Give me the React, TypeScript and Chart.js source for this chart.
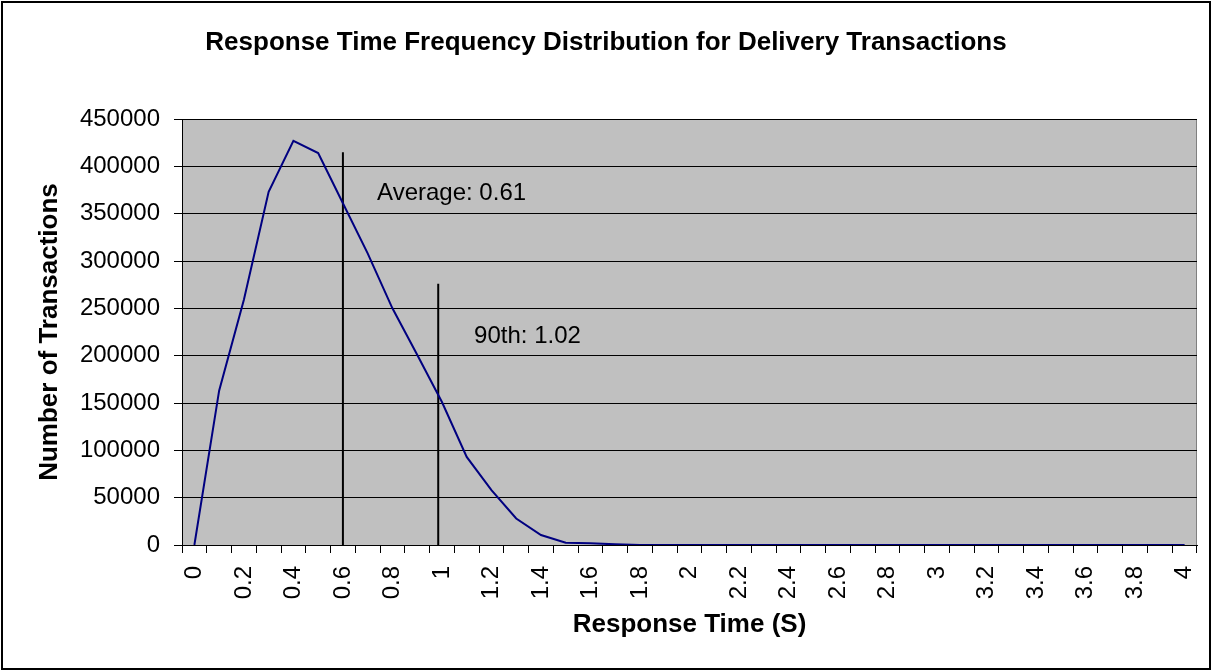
import { useEffect, useRef } from 'react';
import { Chart, registerables } from 'chart.js';

Chart.register(...registerables);

const chartTitle = 'Response Time Frequency Distribution for Delivery Transactions';
const xAxisTitle = 'Response Time (S)';
const yAxisTitle = 'Number of Transactions';

// Response time buckets (seconds)
const categories = [
  '0', '0.1', '0.2', '0.3', '0.4', '0.5', '0.6', '0.7', '0.8', '0.9',
  '1', '1.1', '1.2', '1.3', '1.4', '1.5', '1.6', '1.7', '1.8', '1.9',
  '2', '2.1', '2.2', '2.3', '2.4', '2.5', '2.6', '2.7', '2.8', '2.9',
  '3', '3.1', '3.2', '3.3', '3.4', '3.5', '3.6', '3.7', '3.8', '3.9',
  '4',
];

// Number of transactions per bucket
const transactions = [
  0, 163000, 259000, 373000, 427000, 414000, 361000, 308000, 250000, 201000,
  151000, 93000, 58000, 28000, 10500, 2400, 1800, 700, 0, 0,
  0, 0, 0, 0, 0, 0, 0, 0, 0, 0,
  0, 0, 0, 0, 0, 0, 0, 0, 0, 0,
  0,
];

const yMin = 0;
const yMax = 450000;
const yStep = 50000;

// Marker lines (average / 90th percentile)
const markerTexts = ['Average: 0.61', '90th: 1.02'];
const markerTimes = [0.6, 0.985];
const markerHeights = [415000, 276000];
const markerTextTimes = [0.738, 1.13];
const markerTextValues = [364700, 213200];

const bucketWidth = 0.1;
const FONT = "'Liberation Sans', Arial, sans-serif";

export default function App() {
  const ref = useRef<HTMLCanvasElement>(null);

  useEffect(() => {
    const canvas = ref.current;
    if (!canvas) return;
    Chart.defaults.font.family = FONT;
    Chart.defaults.color = '#000';

    const decor = {
      id: 'decor',
      beforeDraw(chart: any) {
        const { ctx, chartArea } = chart;
        ctx.save();
        ctx.fillStyle = '#fff';
        ctx.fillRect(0, 0, chart.width, chart.height);
        ctx.fillStyle = '#c0c0c0';
        ctx.fillRect(chartArea.left, chartArea.top, chartArea.right - chartArea.left, chartArea.bottom - chartArea.top);
        ctx.strokeStyle = '#808080';
        ctx.lineWidth = 1;
        ctx.strokeRect(chartArea.left + 0.5, chartArea.top + 0.5, chartArea.right - chartArea.left - 1, chartArea.bottom - chartArea.top);
        ctx.restore();
      },
      afterDatasetsDraw(chart: any) {
        const { ctx } = chart;
        const xs = chart.scales.x;
        const ys = chart.scales.y;
        ctx.save();
        ctx.fillStyle = '#000';
        ctx.font = `24px ${FONT}`;
        ctx.textAlign = 'left';
        ctx.textBaseline = 'alphabetic';
        markerTexts.forEach((t, i) => {
          const x = xs.getPixelForValue(markerTextTimes[i] / bucketWidth);
          const y = ys.getPixelForValue(markerTextValues[i]);
          ctx.fillText(t, x, y);
        });
        ctx.restore();
      },
      afterDraw(chart: any) {
        const { ctx } = chart;
        ctx.save();
        ctx.strokeStyle = '#000';
        ctx.lineWidth = 2;
        ctx.strokeRect(2, 2, chart.width - 4, chart.height - 4);
        ctx.restore();
      },
    };

    const chart = new Chart(canvas, {
      type: 'line',
      data: {
        labels: categories,
        datasets: [
          {
            data: transactions,
            borderColor: '#000080',
            borderWidth: 2,
            pointRadius: 0,
            tension: 0,
            fill: false,
          },
          ...markerTimes.map((t, i) => ({
            data: [
              { x: t / bucketWidth, y: 0 },
              { x: t / bucketWidth, y: markerHeights[i] },
            ],
            parsing: false,
            borderColor: '#000',
            borderWidth: 2,
            pointRadius: 0,
            fill: false,
          })),
        ] as any,
      },
      options: {
        animation: false,
        responsive: false,
        devicePixelRatio: 1,
        layout: { padding: 0 },
        plugins: {
          legend: { display: false },
          tooltip: { enabled: false },
          title: {
            display: true,
            text: chartTitle,
            color: '#000',
            font: { size: 26, weight: 'bold', family: FONT },
            padding: { top: 27.4, bottom: 60.4 },
          },
        },
        scales: {
          x: {
            type: 'category',
            offset: true,
            grid: { offset: true, drawOnChartArea: false, drawTicks: true, tickLength: 8, color: '#000', lineWidth: 1 },
            border: { color: '#000', width: 1 },
            ticks: {
              autoSkip: false,
              maxRotation: 90,
              minRotation: 90,
              padding: 13,
              color: '#000',
              font: { size: 24, family: FONT },
              callback: (_v: any, i: number) => (i % 2 === 0 ? categories[i] : ''),
            },
            title: {
              display: true,
              text: xAxisTitle,
              color: '#000',
              font: { size: 26, weight: 'bold', family: FONT },
              padding: { top: 0, bottom: 30.4 },
            },
            afterFit: (s: any) => {
              s.height = 126;
              s.paddingLeft = 0;
              s.paddingRight = 0;
            },
          },
          y: {
            min: yMin,
            max: yMax,
            ticks: {
              stepSize: yStep,
              color: '#000',
              padding: 14,
              font: { size: 24, family: FONT },
              callback: (v: any) => String(v),
            },
            grid: { color: '#000', lineWidth: 1, tickLength: 8 },
            border: { color: '#000', width: 1 },
            title: {
              display: true,
              text: yAxisTitle,
              color: '#000',
              font: { size: 26, weight: 'bold', family: FONT },
              padding: { top: 34, bottom: 0 },
            },
            afterFit: (s: any) => {
              s.width = 182;
            },
          },
          y2: {
            position: 'right',
            display: true,
            grid: { display: false, drawTicks: false },
            ticks: { display: false },
            border: { display: false },
            afterFit: (s: any) => {
              s.width = 15;
            },
          },
        },
      } as any,
      plugins: [decor],
    });

    return () => chart.destroy();
  }, []);

  return (
    <div style={{ position: 'fixed', left: 0, top: 0, width: 1212, height: 671, background: '#fff' }}>
      <canvas ref={ref} width={1212} height={671} style={{ display: 'block', width: 1212, height: 671 }} />
    </div>
  );
}
